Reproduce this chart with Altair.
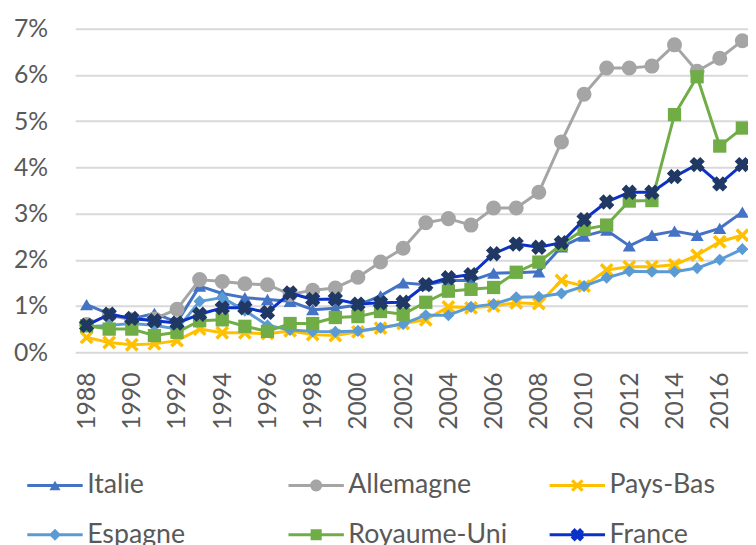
import math
import altair as alt
import pandas as pd

# ---------------- data (values in %) ----------------
years = list(range(1988, 2018))

italie = [1.03, 0.83, 0.72, 0.84, 0.65, 1.43, 1.27, 1.18, 1.14, 1.10,
          0.92, 0.95, 1.02, 1.22, 1.50, 1.46, 1.55, 1.55, 1.71, 1.72,
          1.74, 2.28, 2.51, 2.64, 2.30, 2.53, 2.62, 2.53, 2.68, 3.03]
allemagne = [0.60, 0.80, 0.70, 0.72, 0.93, 1.57, 1.53, 1.48, 1.46, 1.25,
             1.34, 1.39, 1.62, 1.95, 2.25, 2.80, 2.89, 2.75, 3.12, 3.12,
             3.46, 4.55, 5.58, 6.15, 6.15, 6.19, 6.65, 6.08, 6.36, 6.74]
pays_bas = [0.32, 0.21, 0.16, 0.18, 0.25, 0.50, 0.42, 0.42, 0.40, 0.46,
            0.38, 0.36, 0.44, 0.52, 0.62, 0.70, 0.98, 0.96, 1.00, 1.07,
            1.05, 1.55, 1.43, 1.78, 1.85, 1.85, 1.89, 2.10, 2.39, 2.53]
espagne = [0.55, 0.58, 0.62, 0.58, 0.50, 1.10, 1.18, 0.90, 0.58, 0.48,
           0.45, 0.44, 0.46, 0.53, 0.61, 0.80, 0.80, 0.98, 1.04, 1.19,
           1.20, 1.27, 1.43, 1.61, 1.75, 1.74, 1.74, 1.82, 2.00, 2.23]
royaume_uni = [0.57, 0.50, 0.50, 0.36, 0.43, 0.68, 0.70, 0.56, 0.45, 0.62,
               0.62, 0.75, 0.77, 0.88, 0.82, 1.08, 1.32, 1.36, 1.40, 1.73,
               1.95, 2.33, 2.66, 2.75, 3.27, 3.28, 5.14, 5.96, 4.46, 4.85]
france = [0.58, 0.82, 0.73, 0.68, 0.63, 0.82, 0.96, 0.96, 0.86, 1.28,
          1.14, 1.15, 1.04, 1.07, 1.08, 1.46, 1.61, 1.68, 2.13, 2.34,
          2.27, 2.37, 2.87, 3.25, 3.46, 3.46, 3.80, 4.06, 3.64, 4.06]

series_names = ["Italie", "Allemagne", "Pays-Bas", "Espagne", "Royaume-Uni", "France"]
series_values = [italie, allemagne, pays_bas, espagne, royaume_uni, france]
year_ticks = list(range(1988, 2017, 2))
pct_ticks = [0, 0.01, 0.02, 0.03, 0.04, 0.05, 0.06, 0.07]

# ---------------- styles ----------------
line_colors = ["#4472C4", "#A5A5A5", "#FFC000", "#5B9BD5", "#70AD47", "#0B32C8"]
marker_colors = ["#4472C4", "#A5A5A5", "#FFC000", "#5B9BD5", "#70AD47", "#203864"]
FONT = "Lato"
TXT = "#595959"


def x_path(w, ext=1.0):
    pts = [(-w, -1), (w, -1), (w, -w), (1, -w), (1, w), (w, w), (w, 1),
           (-w, 1), (-w, w), (-1, w), (-1, -w), (-w, -w)]
    k = ext * math.sqrt(2) / (1 + w)
    s2 = math.sqrt(2)
    rp = [((x - y) / s2 * k, (x + y) / s2 * k) for x, y in pts]
    return "M" + " L".join(f"{a:.3f},{b:.3f}" for a, b in rp) + " Z"


marker_shapes = ["triangle-up", "circle", x_path(0.22), "diamond", "square", x_path(0.42)]
marker_sizes = [175, 230, 196, 150, 180, 240]

LINE = "M-3.5,-0.19 H3.5 V0.19 H-3.5 Z "
legend_paths = [
    LINE + "M0,-0.6 L0.7,0.6 L-0.7,0.6 Z",
    LINE + "M-0.75,0 A0.75,0.75 0 1,1 0.75,0 A0.75,0.75 0 1,1 -0.75,0 Z",
    LINE + x_path(0.22, 0.8),
    LINE + "M0,-0.75 L0.75,0 L0,0.75 L-0.75,0 Z",
    LINE + "M-0.7,-0.7 H0.7 V0.7 H-0.7 Z",
    LINE + x_path(0.42, 0.85),
]

rows = []
for name, vals in zip(series_names, series_values):
    for yr, v in zip(years, vals):
        rows.append({"pays": name, "annee": yr, "taux": v / 100.0})
df = pd.DataFrame(rows)

x_enc = alt.X(
    "annee:Q",
    scale=alt.Scale(domain=[1987.5, 2017.25], nice=False, zero=False),
    axis=alt.Axis(values=year_ticks, format="d", labelAngle=270, labelAlign="right",
                  labelBaseline="middle", labelPadding=20, ticks=False, domain=False,
                  grid=False, title=None, labelFont=FONT, labelFontSize=25,
                  labelColor=TXT, labelOverlap=False),
)
y_enc = alt.Y(
    "taux:Q",
    scale=alt.Scale(domain=[0, 0.07], nice=False),
    axis=alt.Axis(values=pct_ticks, format=".0%", labelPadding=28, ticks=False,
                  domain=False, grid=True, gridColor="#D9D9D9", gridWidth=2,
                  title=None, labelFont=FONT, labelFontSize=25, labelColor=TXT),
)

base = alt.Chart(df)

leg_props = dict(
    title=None, orient="none", direction="horizontal", legendX=-50, legendY=448,
    columns=3, gridAlign="all", columnPadding=41, rowPadding=22, symbolSize=256,
    symbolOffset=16, labelOffset=19, labelFont=FONT, labelFontSize=27,
    labelColor=TXT, symbolOpacity=1, symbolStrokeWidth=0, labelLimit=0, padding=0,
)

legend_layer = base.mark_point(filled=True, opacity=0).encode(
    x=x_enc, y=y_enc,
    color=alt.Color("pays:N", scale=alt.Scale(domain=series_names, range=line_colors),
                    legend=alt.Legend(**leg_props)),
    shape=alt.Shape("pays:N", scale=alt.Scale(domain=series_names, range=legend_paths),
                    legend=alt.Legend(**leg_props)),
)

layers = [legend_layer]
for i, name in enumerate(series_names):
    sub = base.transform_filter(alt.datum.pays == name)
    layers.append(
        sub.mark_line(color=line_colors[i], strokeWidth=3, strokeJoin="round").encode(x=x_enc, y=y_enc)
    )
    layers.append(
        sub.mark_point(filled=True, shape=marker_shapes[i], size=marker_sizes[i],
                       fill=marker_colors[i], opacity=1, strokeWidth=0).encode(x=x_enc, y=y_enc)
    )

chart = alt.layer(*layers).properties(
    width=680, height=327,
    autosize=alt.AutoSizeParams(type="none"),
    padding={"left": 68, "top": 18, "right": 0, "bottom": 192},
    background="white",
).configure_view(stroke=None)

chart.save("out.html", embed_options={"renderer": "svg", "actions": False})
